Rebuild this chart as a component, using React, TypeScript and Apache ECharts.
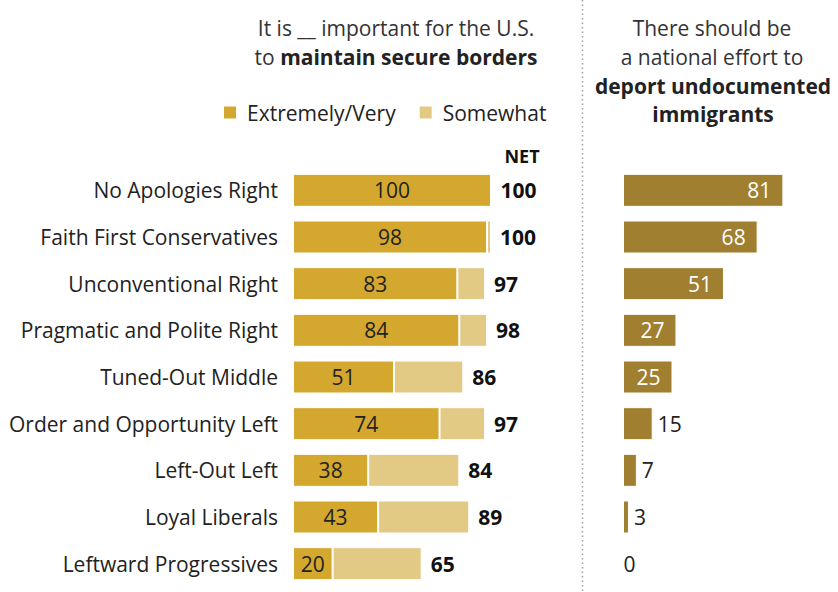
import React, { useEffect, useRef } from "react";
import * as echarts from "echarts";

const categories = [
  "No Apologies Right",
  "Faith First Conservatives",
  "Unconventional Right",
  "Pragmatic and Polite Right",
  "Tuned-Out Middle",
  "Order and Opportunity Left",
  "Left-Out Left",
  "Loyal Liberals",
  "Leftward Progressives",
];
const extremelyVery = [100, 98, 83, 84, 51, 74, 38, 43, 20];
const somewhat = [0, 2, 14, 14, 35, 23, 46, 46, 45];
const net = [100, 100, 97, 98, 86, 97, 84, 89, 65];
const deport = [81, 68, 51, 27, 25, 15, 7, 3, 0];

const C_EXT = "#D4A82F";
const C_SOME = "#E2CA85";
const C_DEP = "#A07F31";
const FONT = "Open Sans";
const FS = 21;

export default function App() {
  const ref = useRef<HTMLDivElement>(null);
  useEffect(() => {
    document.body.style.margin = "0";
    const chart = echarts.init(ref.current!, null, { renderer: "svg" });
    const gridTop = 167;
    const gridH = 420;
    const titleText = (x: number, y: number, text: string, bold = false, rich?: any) => ({
      type: "text",
      x,
      y,
      style: {
        text,
        textAlign: "center",
        textVerticalAlign: "middle",
        fontSize: FS,
        fontWeight: bold ? "bold" : "normal",
        fill: bold ? "#222" : "#333",
        fontFamily: FONT,
        rich,
      },
    });
    chart.setOption({
      animation: false,
      textStyle: { fontFamily: FONT },
      grid: [
        { left: 293, top: gridTop, width: 198, height: gridH },
        { left: 623, top: gridTop, width: 198, height: gridH },
      ],
      xAxis: [
        { gridIndex: 0, type: "value", min: 0, max: 100, show: false },
        { gridIndex: 1, type: "value", min: 0, max: 100, show: false },
      ],
      yAxis: [
        {
          gridIndex: 0,
          type: "category",
          data: categories,
          inverse: true,
          axisLine: { show: false },
          axisTick: { show: false },
          axisLabel: { fontSize: FS, color: "#222", margin: 15, fontFamily: FONT },
        },
        {
          gridIndex: 1,
          type: "category",
          data: categories,
          inverse: true,
          show: false,
        },
      ],
      legend: {
        data: ["Extremely/Very", "Somewhat"],
        left: 217,
        top: 97,
        itemWidth: 14,
        itemHeight: 14,
        itemGap: 22,
        icon: "rect",
        textStyle: { fontSize: FS, color: "#222", fontFamily: FONT, padding: [0, 0, 0, 5] },
      },
      series: [
        {
          name: "Extremely/Very",
          type: "bar",
          stack: "a",
          xAxisIndex: 0,
          yAxisIndex: 0,
          barWidth: 33,
          data: extremelyVery,
          itemStyle: { color: C_EXT, borderColor: "#fff", borderWidth: 1 },
          label: {
            show: true,
            position: "inside",
            fontSize: FS,
            color: "#222",
            fontFamily: FONT,
          },
        },
        {
          name: "Somewhat",
          type: "bar",
          stack: "a",
          xAxisIndex: 0,
          yAxisIndex: 0,
          barWidth: 33,
          data: somewhat,
          itemStyle: { color: C_SOME, borderColor: "#fff", borderWidth: 1 },
          label: {
            show: true,
            position: "right",
            distance: 9,
            fontSize: FS,
            fontWeight: "bold",
            color: "#111",
            fontFamily: FONT,
            formatter: (p: any) => String(net[p.dataIndex]),
          },
        },
        {
          name: "Deport",
          type: "bar",
          xAxisIndex: 1,
          yAxisIndex: 1,
          barWidth: 33,
          itemStyle: { color: C_DEP, borderColor: "#fff", borderWidth: 1 },
          data: deport.map((v) => ({
            value: v,
            label:
              v >= 25
                ? { show: true, position: "insideRight", distance: 12, color: "#fff" }
                : { show: true, position: "right", distance: v === 0 ? 0 : 5, color: "#222" },
          })),
          label: { show: true, fontSize: FS, fontFamily: FONT },
        },
      ],
      graphic: [
        {
          type: "line",
          shape: { x1: 582.5, y1: 0, x2: 582.5, y2: 592 },
          style: { stroke: "#a0a0a0", lineWidth: 1.5, lineDash: [1.5, 3] },
        },
        titleText(396, 28, "It is __ important for the U.S."),
        titleText(396, 57, "to {b|maintain secure borders}", false, {
          b: { fontWeight: "bold", fontSize: FS, fill: "#222", fontFamily: FONT },
        }),
        titleText(712, 28, "There should be"),
        titleText(712, 57, "a national effort to"),
        titleText(713, 86, "deport undocumented", true),
        titleText(713, 114, "immigrants", true),
        {
          type: "text",
          x: 522,
          y: 156,
          style: {
            text: "NET",
            textAlign: "center",
            textVerticalAlign: "middle",
            fontSize: 18,
            fontWeight: "bold",
            fill: "#111",
            fontFamily: FONT,
          },
        },
      ],
    });
    return () => chart.dispose();
  }, []);
  return <div ref={ref} style={{ width: 838, height: 592 }} />;
}
